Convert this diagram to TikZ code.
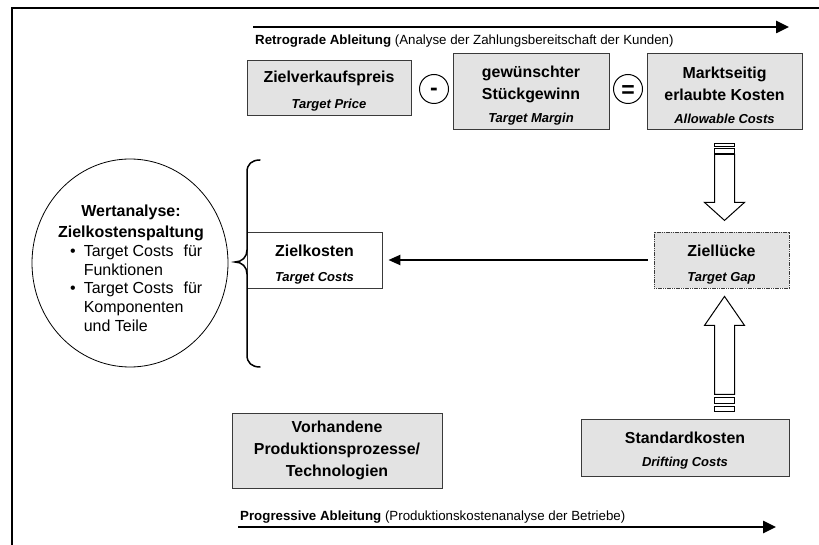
\documentclass[tikz,border=0pt]{standalone}
\usepackage{fontspec}
\setmainfont{Liberation Sans}
\usepackage{tikz}
\usetikzlibrary{calc,arrows.meta,shapes.geometric}
\definecolor{ink}{HTML}{000000}
\definecolor{edge}{HTML}{3A3A3A}
\definecolor{panel}{HTML}{E3E3E3}
\newcommand{\subtxt}{\fontsize{13}{22}\selectfont\bfseries\itshape}
\tikzset{
  frame/.style={draw=ink, line width=1.5pt},
  box/.style={draw=edge, fill=panel, line width=0.8pt, inner sep=0pt, align=center,
    font=\fontsize{15.9}{22}\selectfont\bfseries},
  wbox/.style={box, fill=white},
  gapbox/.style={box, dash pattern=on 1.2pt off 0.6pt},
  op/.style={circle, draw=ink, line width=1pt, minimum size=29pt, inner sep=0pt,
    font=\fontsize{23}{23}\selectfont\bfseries, text depth=0pt},
  flow/.style={draw=ink, line width=2.5pt, -{Triangle[length=13pt,width=12pt]}},
  link/.style={draw=ink, line width=2.2pt, -{Triangle[length=12pt,width=10pt]},
    shorten >=6pt, shorten <=6pt},
  hollow/.style={draw=ink, fill=white, line width=1pt, line join=miter},
  brace/.style={draw=ink, line width=1.5pt, line cap=round},
  lab/.style={font=\fontsize{13.3}{16}\selectfont, inner sep=0pt, anchor=base west},
}

\begin{document}
\begin{tikzpicture}[x=1pt, y=-1pt]
  \useasboundingbox (0,0) rectangle (819,545);
  \draw[frame] (12,545) -- (12,8) -- (819,8);

  % retrograde chain
  \coordinate (rs) at (253,27);
  \coordinate (re) at (789,27);
  \draw[flow] (rs) -- (re);
  \node[lab] (retro) at (255,45) {\textbf{Retrograde Ableitung} (Analyse der Zahlungsbereitschaft der Kunden)};

  \node[box, minimum width=164pt, minimum height=55pt] (vkp) at (329,87.5)
    {\rule{0pt}{19pt}Zielverkaufspreis\hspace{12pt}\\[4pt]\subtxt Target Price};
  \node[op, text height=12.4pt] (minus) at (434,89) {-};
  \node[box, minimum width=156pt, minimum height=76pt] (sg) at (531,91)
    {\rule{0pt}{20.5pt}gewünschter\\Stückgewinn\\[1pt]\subtxt Target Margin};
  \node[op, text height=16.5pt] (eq) at (628,89) {=};
  \node[box, minimum width=155pt, minimum height=76pt] (ek) at (724.5,91)
    {\rule{0pt}{20.5pt}Marktseitig\\erlaubte Kosten\\[1pt]\subtxt Allowable Costs};

  % gap and costs
  \node[gapbox, minimum width=135pt, minimum height=56pt] (zl) at (721.5,260)
    {\rule{0pt}{20.5pt}Ziellücke\\[3pt]\subtxt Target Gap};
  \node[wbox, minimum width=135pt, minimum height=56pt] (zk) at (314.5,260)
    {\rule{0pt}{20.5pt}Zielkosten\\[3pt]\subtxt Target Costs};
  \draw[link] (zl.west) -- (zk.east);

  % hollow arrow down
  \coordinate (dtop) at ($(ek.south)+(0,14)$);
  \draw[hollow] ($(dtop)+(-10,0)$) rectangle ++(20,3.5);
  \draw[hollow] ($(dtop)+(-10,5)$) rectangle ++(20,5);
  \draw[hollow] ($(dtop)+(-10,11)$) -- ++(0,48) -- ++(-10,0) -- ++(20,18)
    -- ++(20,-18) -- ++(-10,0) -- ++(0,-48) -- cycle;

  % progressive side
  \node[box, minimum width=208pt, minimum height=57pt] (sk) at (685,447.5)
    {\rule{0pt}{17.7pt}Standardkosten\\[1pt]\subtxt Drifting Costs};
  \node[box, minimum width=210pt, minimum height=75pt] (vp) at (337,450.5)
    {Vorhandene\\Produktionsprozesse/\\Technologien};

  % hollow arrow up
  \coordinate (utip) at ($(ek.south |- zl.south)+(0,8)$);
  \draw[hollow] (utip) -- ++(20,29) -- ++(-10,0) -- ++(0,69) -- ++(-20,0)
    -- ++(0,-69) -- ++(-10,0) -- cycle;
  \draw[hollow] ($(utip)+(-10,101)$) rectangle ++(20,6);
  \draw[hollow] ($(utip)+(-10,110)$) rectangle ++(20,5);

  \coordinate (ps) at (238,527);
  \coordinate (pe) at (776,527);
  \draw[flow] (ps) -- (pe);
  \node[lab] (progr) at (240,520) {\textbf{Progressive Ableitung} (Produktionskostenanalyse der Betriebe)};

  % value analysis
  \node[ellipse, draw=ink, line width=0.8pt, minimum width=196pt, minimum height=208pt,
    inner sep=0pt] (wa) at (130,263) {};
  \node[font=\fontsize{16}{20.5}\selectfont\bfseries, align=center, inner sep=0pt] (wah)
    at (131,223) {Wertanalyse:\\Zielkostenspaltung};
  \node[anchor=north west, inner sep=0pt, font=\fontsize{16}{18.75}\selectfont] (wab) at (70,243)
    {\begin{tabular}{@{}l@{\hspace{8pt}}l@{}}
      \textbullet & Target Costs\hspace{10pt}für\\
                  & Funktionen\\
      \textbullet & Target Costs\hspace{10pt}für\\
                  & Komponenten\\
                  & und Teile
     \end{tabular}};

  % brace
  \draw[brace] (260,160) .. controls (252,160) and (247,164) .. (247,172) -- (247,250)
    .. controls (247,257) and (242,262) .. (235,262)
    .. controls (242,262) and (247,267) .. (247,274) -- (247,355)
    .. controls (247,363) and (252,367) .. (260,367);
\end{tikzpicture}
\end{document}
